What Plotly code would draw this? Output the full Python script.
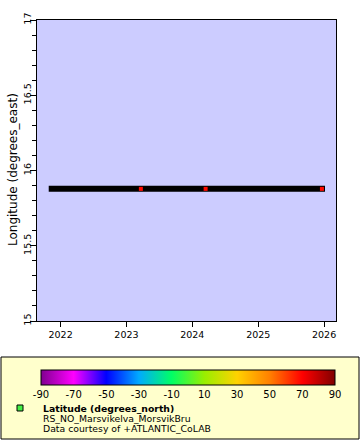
import plotly.graph_objects as go

# ---- data ----
track_time = ["2021-10-27", "2026-01-06"]
track_lon = [15.878, 15.878]

marker_time = ["2023-03-22", "2024-03-15", "2025-12-20"]
marker_lon = [15.878, 15.878, 15.878]
marker_lat = [68.4, 68.4, 68.4]

colorbar_ticks = [-90, -70, -50, -30, -10, 10, 30, 50, 70, 90]
colorbar_ticklabels = ["-90", "-70", "-50", "-30", "-10", "10", "30", "50", "70", "90"]
x_ticks = ["2022-01-01", "2023-01-01", "2024-01-01", "2025-01-01", "2026-01-01"]
x_ticklabels = ["2022", "2023", "2024", "2025", "2026"]
y_ticks = [15, 15.5, 16, 16.5, 17]
y_ticklabels = ["15", "15.5", "16", "16.5", "17"]

legend_lines = ["<b>Latitude (degrees_north)</b>", "RS_NO_Marsvikelva_MorsvikBru",
                "Data courtesy of +ATLANTIC_CoLAB"]

colorscale = [
    [0.0, "#800090"], [0.111, "#ff00ff"], [0.222, "#0000ff"], [0.333, "#00aaff"],
    [0.444, "#00ff66"], [0.556, "#99ee00"], [0.667, "#ffd200"], [0.778, "#ff8000"],
    [0.889, "#ff0000"], [1.0, "#800000"],
]

FONT = "DejaVu Sans"
W, H = 360, 440
L, R, T, B = 37, 24, 20, 119
PW, PH = W - L - R, H - T - B


def px(x):
    return (x - L) / PW


def py(y):
    return (H - B - y) / PH


fig = go.Figure()
fig.add_trace(go.Scatter(
    x=track_time, y=track_lon, mode="lines",
    line=dict(color="black", width=6), hoverinfo="skip", showlegend=False))
fig.add_trace(go.Scatter(
    x=marker_time, y=marker_lon, mode="markers", showlegend=False,
    marker=dict(symbol="square", size=4, color=marker_lat, colorscale=colorscale,
                cmin=-90, cmax=90, line=dict(width=0),
                colorbar=dict(
                    orientation="h", x=px(188), xanchor="center",
                    y=py(370), yanchor="top", len=294, lenmode="pixels",
                    thickness=15, thicknessmode="pixels", xpad=0, ypad=0,
                    outlinecolor="black", outlinewidth=1,
                    tickvals=colorbar_ticks, ticktext=colorbar_ticklabels,
                    ticks="", ticklen=0,
                    tickfont=dict(family=FONT, size=10, color="black"),
                ))))

shapes = [
    dict(type="rect", xref="paper", yref="paper", x0=px(1), x1=px(359),
         y0=py(439), y1=py(357), fillcolor="#ffffcc",
         line=dict(color="black", width=1), layer="below"),
    dict(type="rect", xref="paper", yref="paper", x0=px(17), x1=px(23),
         y0=py(411), y1=py(405), fillcolor="#44ee44",
         line=dict(color="black", width=1)),
]

annotations = []
for txt, yy in zip(legend_lines, [408, 418, 428]):
    annotations.append(dict(
        text=txt, xref="paper", yref="paper", x=px(41), y=py(yy),
        xanchor="left", yanchor="middle", showarrow=False,
        font=dict(family=FONT, size=9.3, color="black")))
annotations.append(dict(
    text="Longitude (degrees_east)", xref="paper", yref="paper",
    x=px(13), y=py(170), xanchor="center", yanchor="middle", textangle=-90,
    showarrow=False, font=dict(family=FONT, size=12, color="black")))

fig.update_layout(
    width=W, height=H, margin=dict(l=L, r=R, t=T, b=B, pad=0, autoexpand=False),
    paper_bgcolor="white", plot_bgcolor="#ccccff",
    shapes=shapes, annotations=annotations, showlegend=False,
    xaxis=dict(type="date", range=["2021-08-23", "2026-03-08"],
               tickvals=x_ticks, ticktext=x_ticklabels, ticks="outside",
               ticklen=5, tickcolor="black", showgrid=False, zeroline=False,
               showline=True, linecolor="black", linewidth=1, mirror=True,
               tickfont=dict(family=FONT, size=9.5, color="black")),
    yaxis=dict(range=[15, 17], tickvals=y_ticks, ticktext=y_ticklabels,
               ticks="outside", ticklen=6, tickcolor="black", tickangle=-90,
               ticklabelstandoff=-5,
               showgrid=False, zeroline=False, showline=True, linecolor="black",
               linewidth=1, mirror=True,
               minor=dict(dtick=0.1, ticks="outside", ticklen=4, tickcolor="black",
                          showgrid=False),
               tickfont=dict(family=FONT, size=9.5, color="black")),
)

fig.write_html("out.html", config={"displayModeBar": False},
               post_script="document.body.style.margin='0';"
                           "document.body.style.overflow='hidden';")
